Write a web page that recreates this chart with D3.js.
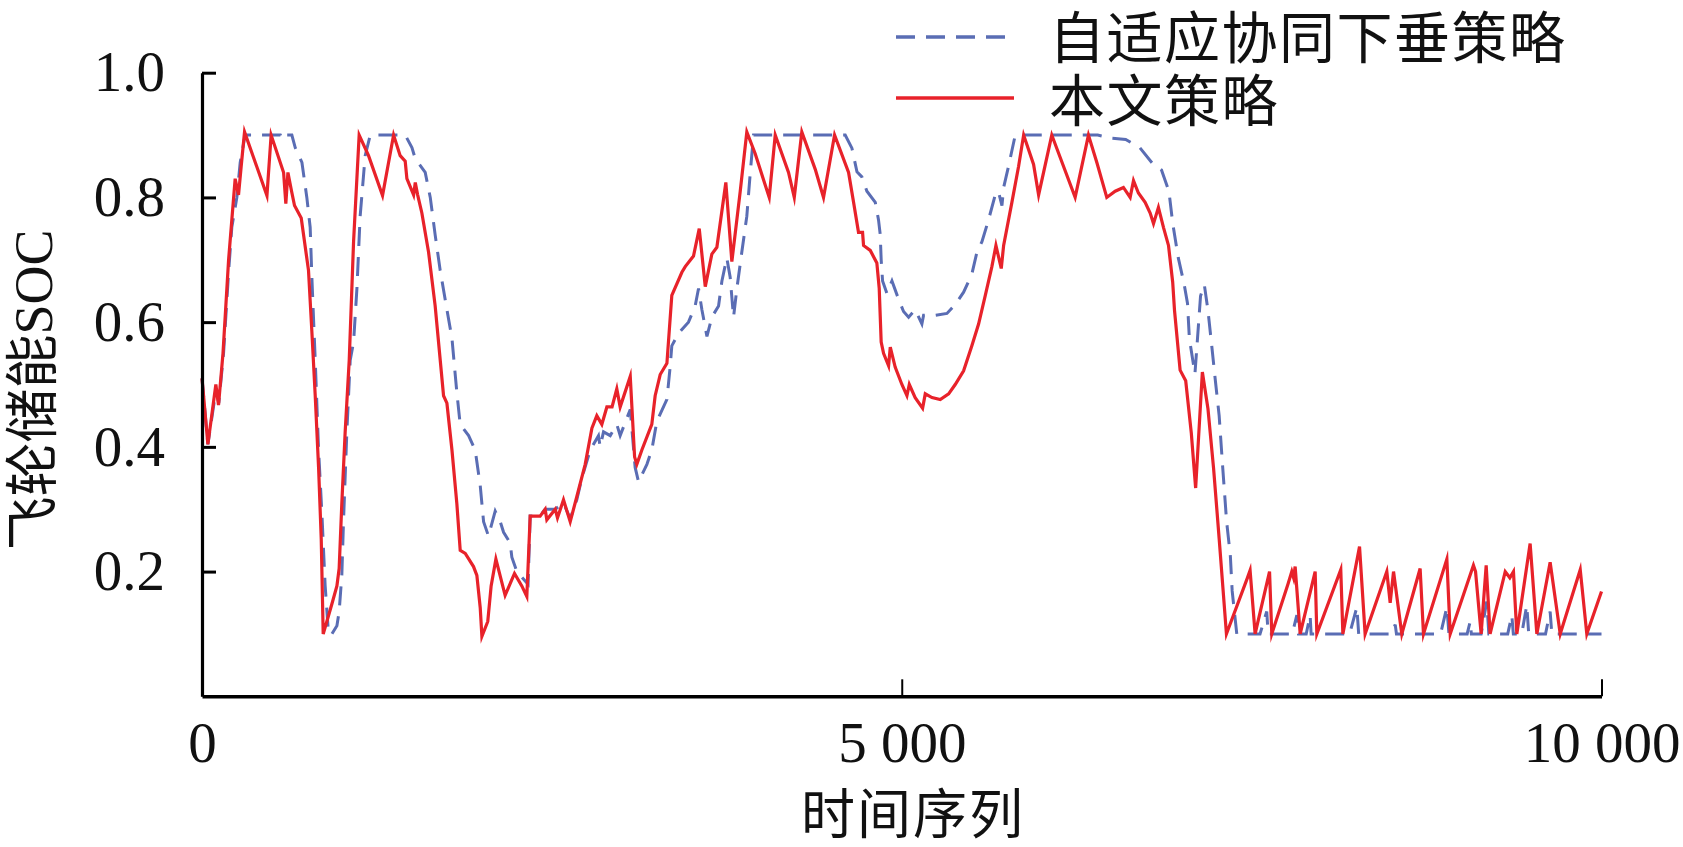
<!DOCTYPE html>
<html>
<head>
<meta charset="utf-8">
<script src="https://cdn.jsdelivr.net/npm/d3@7"></script>
<style>
  html, body { margin: 0; padding: 0; background: #fff; }
  svg { display: block; }
</style>
</head>
<body>
<svg id="chart" width="1683" height="847"></svg>
<script>
// ---------------- data ----------------
const seriesNames = ["自适应协同下垂策略", "本文策略"];
const xTickValues = [0, 5000, 10000];
const xTickLabels = ["0", "5 000", "10 000"];
const yTickValues = [0.2, 0.4, 0.6, 0.8, 1.0];
const yTickLabels = ["0.2", "0.4", "0.6", "0.8", "1.0"];
const xTitle = "时间序列";
const yTitleCJK = "飞轮储能";
const yTitleLatin = "SOC";

// 自适应协同下垂策略 (blue dashed): [time, SOC]
const adaptiveSeries = [
  [0,0.51],[42,0.404],[99,0.49],[120,0.47],[154,0.55],[190,0.68],[213,0.752],[249,0.80],[273,0.856],[308,0.90],
  [560,0.90],[575,0.893],[600,0.90],[642,0.90],[666,0.88],[714,0.856],[749,0.80],[773,0.752],[785,0.672],[809,0.539],
  [833,0.395],[857,0.292],[880,0.177],[904,0.10],[928,0.10],[964,0.113],[980,0.136],[999,0.194],[1011,0.28],[1035,0.424],
  [1059,0.539],[1083,0.568],[1107,0.654],[1130,0.77],[1166,0.867],[1202,0.90],[1452,0.90],[1500,0.88],[1524,0.862],[1595,0.84],
  [1631,0.80],[1666,0.74],[1702,0.683],[1750,0.62],[1786,0.574],[1821,0.487],[1845,0.436],[1905,0.418],[1952,0.395],[1988,0.338],
  [2012,0.28],[2047,0.257],[2095,0.297],[2131,0.28],[2155,0.263],[2202,0.246],[2214,0.223],[2250,0.20],[2309,0.185],[2330,0.18],
  [2345,0.289],[2416,0.289],[2452,0.30],[2524,0.30],[2583,0.31],[2631,0.285],[2678,0.315],[2714,0.35],[2774,0.395],[2833,0.418],
  [2845,0.40],[2869,0.424],[2917,0.418],[2964,0.436],[2988,0.418],[3060,0.46],[3095,0.367],[3119,0.344],[3179,0.372],[3214,0.395],
  [3250,0.441],[3322,0.476],[3345,0.528],[3357,0.562],[3405,0.582],[3476,0.60],[3524,0.626],[3548,0.654],[3572,0.62],[3608,0.577],
  [3643,0.608],[3691,0.626],[3715,0.666],[3750,0.703],[3774,0.672],[3798,0.608],[3822,0.654],[3857,0.712],[3893,0.77],[3917,0.838],
  [3941,0.90],[4596,0.90],[4644,0.879],[4680,0.841],[4715,0.833],[4751,0.81],[4811,0.792],[4834,0.764],[4846,0.741],[4853,0.70],
  [4863,0.666],[4894,0.646],[4930,0.666],[4977,0.637],[5013,0.617],[5049,0.608],[5096,0.62],[5144,0.597],[5156,0.611],[5239,0.611],
  [5323,0.614],[5382,0.628],[5442,0.648],[5501,0.677],[5537,0.712],[5573,0.729],[5620,0.764],[5668,0.804],[5690,0.81],[5716,0.787],
  [5728,0.816],[5763,0.85],[5811,0.90],[6400,0.90],[6500,0.895],[6600,0.893],[6700,0.88],[6790,0.855],[6856,0.844],[6909,0.81],
  [6936,0.759],[6976,0.703],[7016,0.663],[7042,0.63],[7055,0.574],[7095,0.517],[7135,0.642],[7162,0.66],[7188,0.619],[7215,0.562],
  [7241,0.506],[7268,0.45],[7294,0.365],[7321,0.281],[7348,0.225],[7361,0.169],[7370,0.15],[7394,0.10],
  [7560,0.10],[7608,0.136],[7618,0.10],[7790,0.10],[7823,0.13],[7835,0.10],[7890,0.10],[7918,0.13],[7925,0.10],
  [8200,0.10],[8252,0.143],[8265,0.10],[8500,0.10],[8526,0.115],[8535,0.10],[8850,0.10],[8895,0.143],[8910,0.10],
  [9040,0.10],[9062,0.12],[9070,0.10],[9140,0.10],[9180,0.152],[9195,0.10],[9330,0.10],[9359,0.13],[9370,0.10],
  [9430,0.10],[9466,0.146],[9480,0.10],[9600,0.10],[9633,0.136],[9645,0.10],[10000,0.10]
];

// 本文策略 (red solid): [time, SOC]
const oursSeries = [
  [0,0.51],[42,0.404],[99,0.50],[118,0.467],[150,0.55],[190,0.70],[237,0.83],[261,0.804],[280,0.85],[304,0.905],
  [464,0.803],[494,0.90],[583,0.84],[599,0.79],[614,0.84],[640,0.81],[661,0.787],[709,0.767],[761,0.683],[785,0.585],
  [809,0.482],[833,0.367],[852,0.252],[866,0.10],[892,0.12],[928,0.148],[964,0.177],[980,0.205],[999,0.309],[1023,0.424],
  [1052,0.539],[1083,0.729],[1123,0.90],[1190,0.867],[1290,0.803],[1369,0.90],[1416,0.867],[1452,0.858],[1464,0.83],[1512,0.804],
  [1524,0.824],[1540,0.805],[1571,0.775],[1619,0.712],[1666,0.626],[1726,0.482],[1750,0.47],[1786,0.395],[1821,0.309],[1845,0.234],
  [1881,0.229],[1940,0.208],[1964,0.194],[1988,0.142],[2000,0.096],[2042,0.12],[2066,0.177],[2100,0.22],[2166,0.162],[2233,0.197],
  [2285,0.177],[2321,0.16],[2345,0.289],[2416,0.289],[2452,0.30],[2464,0.283],[2524,0.30],[2540,0.286],[2583,0.315],[2631,0.28],
  [2678,0.32],[2738,0.372],[2786,0.43],[2821,0.45],[2857,0.436],[2893,0.464],[2930,0.464],[2964,0.493],[2988,0.464],[3060,0.513],
  [3091,0.384],[3107,0.372],[3143,0.395],[3214,0.436],[3238,0.482],[3274,0.516],[3322,0.534],[3357,0.643],[3429,0.68],[3453,0.689],
  [3512,0.706],[3553,0.75],[3596,0.657],[3643,0.709],[3679,0.72],[3743,0.824],[3786,0.697],[3846,0.81],[3893,0.905],[3953,0.87],
  [4053,0.80],[4096,0.90],[4191,0.84],[4232,0.80],[4286,0.905],[4382,0.845],[4441,0.80],[4520,0.90],[4620,0.84],[4656,0.792],
  [4691,0.744],[4720,0.744],[4727,0.723],[4775,0.715],[4822,0.695],[4839,0.654],[4853,0.568],[4870,0.55],[4906,0.53],[4918,0.56],
  [4953,0.528],[5001,0.50],[5037,0.482],[5054,0.50],[5096,0.479],[5149,0.462],[5168,0.485],[5216,0.479],[5275,0.476],[5335,0.485],
  [5382,0.50],[5442,0.522],[5501,0.562],[5549,0.597],[5597,0.643],[5644,0.689],[5673,0.723],[5711,0.686],[5728,0.723],[5787,0.792],
  [5835,0.85],[5871,0.90],[5942,0.853],[5978,0.804],[6072,0.90],[6239,0.80],[6334,0.90],[6394,0.856],[6465,0.80],[6525,0.81],
  [6584,0.816],[6632,0.80],[6656,0.827],[6691,0.807],[6739,0.792],[6775,0.775],[6799,0.758],[6834,0.784],[6870,0.752],[6906,0.723],
  [6936,0.664],[6949,0.619],[6989,0.523],[7029,0.506],[7069,0.422],[7100,0.334],[7148,0.52],[7188,0.461],[7228,0.366],[7268,0.253],
  [7320,0.10],[7470,0.19],[7489,0.202],[7525,0.10],[7628,0.20],[7644,0.10],[7760,0.18],[7787,0.20],[7800,0.19],[7811,0.208],
  [7847,0.10],[7954,0.20],[7966,0.10],[8137,0.203],[8152,0.10],[8271,0.24],[8311,0.10],[8466,0.20],[8490,0.15],[8514,0.20],
  [8573,0.10],[8704,0.205],[8728,0.10],[8895,0.22],[8919,0.10],[9085,0.21],[9100,0.20],[9140,0.10],[9176,0.21],[9204,0.10],
  [9312,0.20],[9345,0.19],[9371,0.20],[9395,0.10],[9490,0.245],[9538,0.10],[9633,0.215],[9705,0.10],[9848,0.203],[9895,0.10],
  [10000,0.168]
];

// ---------------- drawing ----------------
const svg = d3.select("#chart");
const x0 = 202, x1 = 1601.5, yTop = 72.7, yBot = 696.3;

const x = d3.scaleLinear().domain([0, 10000]).range([x0, x1]);
const y = d3.scaleLinear().domain([0, 1]).range([yBot, yTop]);

const RED = "#e8222a";
const BLUE = "#5a6db4";
const SERIF = "'Liberation Serif', 'Times New Roman', serif";
// Latin primary font keeps the text box tight; the CJK glyphs come from Noto Sans CJK
const CJK = "'Liberation Sans', 'Noto Sans CJK SC', 'Noto Sans CJK TC', sans-serif";

// Lines
const line = d3.line().x(d => x(d[0])).y(d => y(d[1]));

svg.append("path")
  .datum(adaptiveSeries)
  .attr("d", line)
  .attr("fill", "none")
  .attr("stroke", BLUE)
  .attr("stroke-width", 3)
  .attr("stroke-dasharray", "19,11");

svg.append("path")
  .datum(oursSeries)
  .attr("d", line)
  .attr("fill", "none")
  .attr("stroke", RED)
  .attr("stroke-width", 3.2)
  .attr("stroke-linejoin", "miter")
  .attr("stroke-miterlimit", 6);

// Y axis
const yAxis = d3.axisLeft(y)
  .tickValues(yTickValues)
  .tickFormat((d, i) => yTickLabels[i])
  .tickSizeInner(-14)
  .tickSizeOuter(0)
  .tickPadding(37);

const gy = svg.append("g").attr("transform", `translate(${x0},0)`).call(yAxis);
gy.select(".domain").attr("stroke", "#000").attr("stroke-width", 3.2);
gy.selectAll(".tick line").attr("stroke", "#000").attr("stroke-width", 3);
gy.selectAll(".tick text")
  .attr("font-family", SERIF)
  .attr("font-size", 57)
  .attr("fill", "#111");

// X axis
const xAxis = d3.axisBottom(x)
  .tickValues(xTickValues)
  .tickFormat((d, i) => xTickLabels[i])
  .tickSizeInner(-17)
  .tickSizeOuter(0)
  .tickPadding(25);

const gx = svg.append("g").attr("transform", `translate(0,${yBot})`).call(xAxis);
gx.select(".domain").attr("stroke", "#000").attr("stroke-width", 3.6);
gx.selectAll(".tick line").attr("stroke", "#000").attr("stroke-width", 2);
gx.selectAll(".tick text")
  .attr("font-family", SERIF)
  .attr("font-size", 57)
  .attr("fill", "#111");

// Axis titles
svg.append("text")
  .attr("x", 913)
  .attr("y", 834)
  .attr("text-anchor", "middle")
  .attr("font-family", CJK)
  .attr("font-size", 54)
  .attr("letter-spacing", 2)
  .attr("fill", "#111")
  .text(xTitle);

const yt = svg.append("text")
  .attr("transform", "translate(52,390) rotate(-90)")
  .attr("text-anchor", "middle")
  .attr("font-size", 54)
  .attr("fill", "#111");
yt.append("tspan").attr("font-family", CJK).text(yTitleCJK);
yt.append("tspan").attr("font-family", SERIF).text(yTitleLatin);

// Legend
const legend = [
  { name: seriesNames[0], color: BLUE, dash: "19,11", ly: 37, ty: 58 },
  { name: seriesNames[1], color: RED, dash: null, ly: 98, ty: 121 }
];
const lg = svg.append("g");
legend.forEach(l => {
  lg.append("line")
    .attr("x1", 896).attr("x2", 1014)
    .attr("y1", l.ly).attr("y2", l.ly)
    .attr("stroke", l.color)
    .attr("stroke-width", 3.5)
    .attr("stroke-dasharray", l.dash);
  lg.append("text")
    .attr("x", 1049)
    .attr("y", l.ty)
    .attr("font-family", CJK)
    .attr("font-size", 56)
    .attr("letter-spacing", 1.5)
    .attr("fill", "#111")
    .text(l.name);
});
</script>
</body>
</html>
